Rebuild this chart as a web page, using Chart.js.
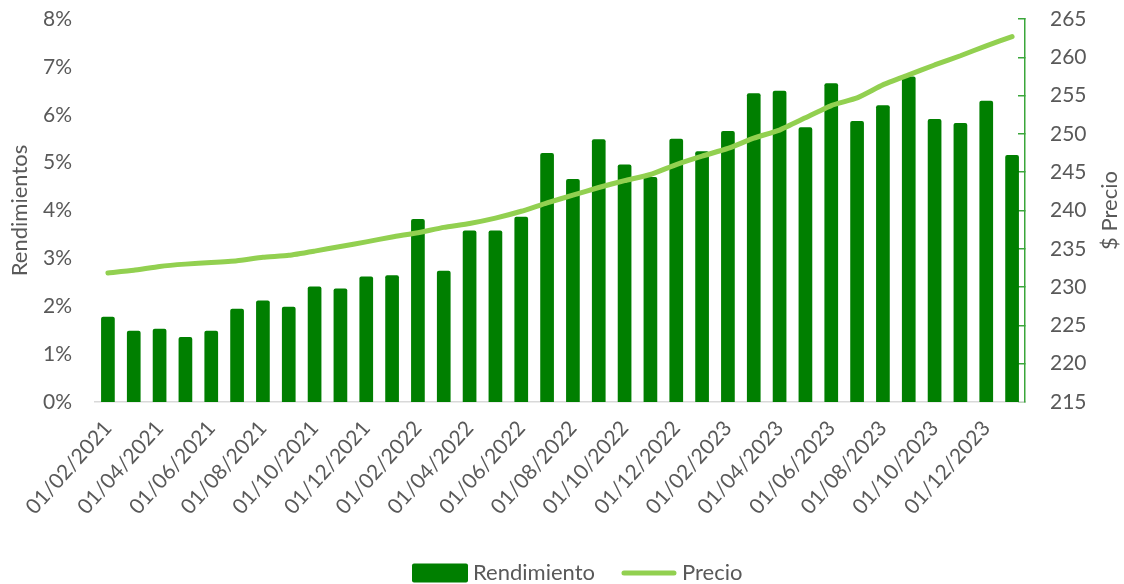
<!DOCTYPE html>
<html>
<head>
<meta charset="utf-8">
<script src="https://cdn.jsdelivr.net/npm/chart.js@4"></script>
<style>
  html, body { margin: 0; padding: 0; background: #ffffff; }
  #wrap { width: 1124px; height: 584px; }
</style>
</head>
<body>
<div id="wrap"><canvas id="chart_rendimiento"></canvas></div>
<script>
const meses = [
  "01/02/2021", "01/03/2021", "01/04/2021", "01/05/2021", "01/06/2021", "01/07/2021",
  "01/08/2021", "01/09/2021", "01/10/2021", "01/11/2021", "01/12/2021", "01/01/2022",
  "01/02/2022", "01/03/2022", "01/04/2022", "01/05/2022", "01/06/2022", "01/07/2022",
  "01/08/2022", "01/09/2022", "01/10/2022", "01/11/2022", "01/12/2022", "01/01/2023",
  "01/02/2023", "01/03/2023", "01/04/2023", "01/05/2023", "01/06/2023", "01/07/2023",
  "01/08/2023", "01/09/2023", "01/10/2023", "01/11/2023", "01/12/2023", "01/01/2024"
];

// rendimiento en %
const rendimiento = [
  1.78, 1.49, 1.53, 1.36, 1.49, 1.95, 2.12, 1.99, 2.41, 2.37, 2.62, 2.65,
  3.82, 2.74, 3.58, 3.58, 3.87, 5.20, 4.66, 5.49, 4.96, 4.70, 5.50, 5.24,
  5.66, 6.45, 6.50, 5.74, 6.66, 5.87, 6.20, 6.80, 5.91, 5.83, 6.29, 5.16
];

const precio = [
  231.85, 232.2, 232.7, 233.0, 233.2, 233.45, 233.9, 234.15, 234.7, 235.3, 235.9, 236.55,
  237.1, 237.8, 238.3, 239.0, 239.9, 241.0, 242.0, 243.0, 243.9, 244.7, 246.0, 247.1,
  248.1, 249.45, 250.5, 252.1, 253.7, 254.7, 256.4, 257.7, 259.0, 260.2, 261.5, 262.7
];

const textColor = '#595959';
const barColor = '#007f00';
const lineColor = '#92d050';
const axisGreen = '#3aa63a';

// titulo del eje derecho, leido de abajo hacia arriba
const rightTitle = {
  id: 'rightTitle',
  afterDraw(chart) {
    const ctx = chart.ctx;
    const area = chart.chartArea;
    ctx.save();
    ctx.translate(1110, (area.top + area.bottom) / 2);
    ctx.rotate(-Math.PI / 2);
    ctx.font = '22px Lato';
    ctx.fillStyle = textColor;
    ctx.textAlign = 'center';
    ctx.textBaseline = 'middle';
    ctx.fillText('$ Precio', 0, 0);
    ctx.restore();
  }
};

// leyenda dibujada a mano (caja de barra + trazo de linea)
const bottomLegend = {
  id: 'bottomLegend',
  afterDraw(chart) {
    const ctx = chart.ctx;
    const ds = chart.data.datasets;
    const y = 573;
    let x = 412;
    ctx.save();
    ctx.font = '22px Lato';
    ctx.textBaseline = 'middle';
    ctx.textAlign = 'left';

    ctx.fillStyle = ds[0].backgroundColor;
    ctx.beginPath();
    ctx.roundRect(x, y - 9.5, 56, 19, 2);
    ctx.fill();
    x += 56 + 5;
    ctx.fillStyle = textColor;
    ctx.fillText(ds[0].label, x, y);
    x += ctx.measureText(ds[0].label).width + 27;

    ctx.strokeStyle = ds[1].borderColor;
    ctx.lineWidth = 5;
    ctx.lineCap = 'round';
    ctx.beginPath();
    ctx.moveTo(x + 2, y);
    ctx.lineTo(x + 52, y);
    ctx.stroke();
    x += 54 + 6;
    ctx.fillText(ds[1].label, x, y);
    ctx.restore();
  }
};

new Chart(document.getElementById('chart_rendimiento'), {
  type: 'bar',
  data: {
    labels: meses,
    datasets: [
      {
        type: 'bar',
        label: 'Rendimiento',
        data: rendimiento,
        yAxisID: 'y',
        backgroundColor: barColor,
        borderWidth: 0,
        borderRadius: 2,
        borderSkipped: 'start',
        barPercentage: 0.53,
        categoryPercentage: 1,
        order: 1
      },
      {
        type: 'line',
        label: 'Precio',
        data: precio,
        yAxisID: 'y1',
        borderColor: lineColor,
        backgroundColor: lineColor,
        borderWidth: 5,
        borderCapStyle: 'round',
        borderJoinStyle: 'round',
        pointRadius: 0,
        tension: 0.15,
        order: 0
      }
    ]
  },
  options: {
    responsive: true,
    maintainAspectRatio: false,
    animation: false,
    layout: { padding: { top: 19, left: 0, right: 0, bottom: 0 } },
    plugins: {
      tooltip: { enabled: false },
      legend: { display: false }
    },
    scales: {
      x: {
        grid: { display: false },
        border: { display: true, color: '#d9d9d9', width: 1.5 },
        ticks: {
          autoSkip: false,
          minRotation: 48,
          maxRotation: 48,
          padding: 6,
          color: textColor,
          font: { family: 'Lato', size: 21 },
          callback: function(value, index) {
            return index % 2 === 0 ? meses[index] : '';
          }
        },
        afterFit: (scale) => {
          scale.height = scale.chart.height - 402;
        }
      },
      y: {
        position: 'left',
        min: 0,
        max: 8,
        grid: { display: false, drawTicks: false },
        border: { display: false },
        ticks: {
          stepSize: 1,
          padding: 23,
          color: textColor,
          font: { family: 'Lato', size: 21 },
          callback: (v) => v + '%'
        },
        title: {
          display: true,
          text: 'Rendimientos',
          color: textColor,
          font: { family: 'Lato', size: 22 },
          padding: { top: 7, bottom: 0 }
        },
        afterFit: (scale) => {
          scale.width = 95;
          scale.paddingTop = 0;
        }
      },
      y1: {
        position: 'right',
        min: 215,
        max: 265,
        grid: {
          drawOnChartArea: false,
          drawTicks: true,
          tickLength: -7,
          color: axisGreen,
          lineWidth: 1.5
        },
        border: { display: true, color: axisGreen, width: 1.5 },
        ticks: {
          stepSize: 5,
          padding: 32,
          color: textColor,
          font: { family: 'Lato', size: 21 }
        },
        afterFit: (scale) => {
          scale.width = 99;
          scale.paddingTop = 0;
        }
      }
    }
  },
  plugins: [rightTitle, bottomLegend]
});
</script>
</body>
</html>
